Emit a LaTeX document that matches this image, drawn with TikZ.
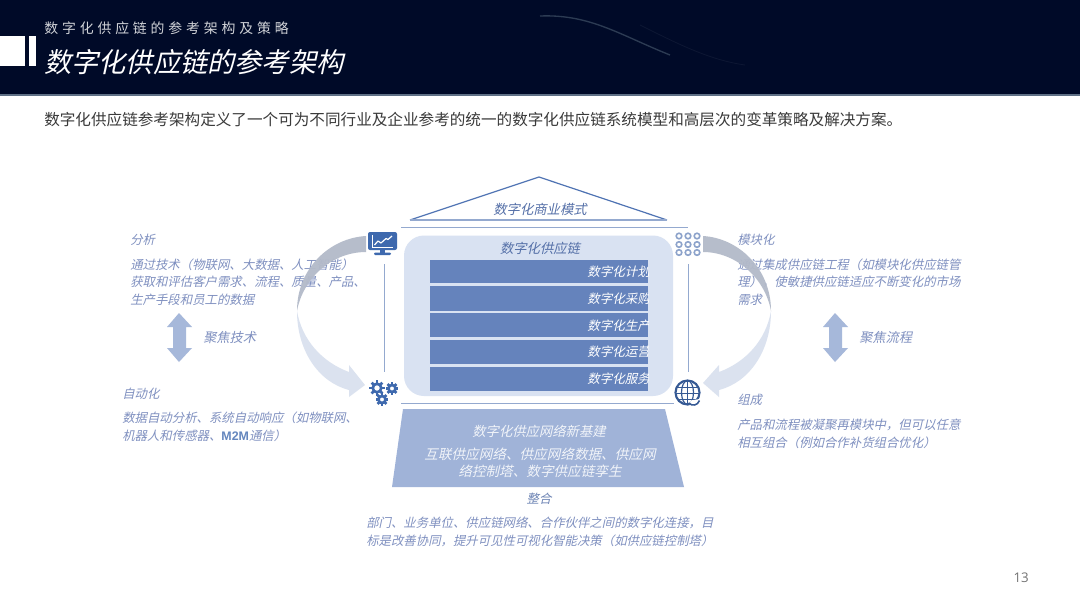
\documentclass[tikz,border=0pt]{standalone}
\usepackage{fontspec}
\setmainfont{Noto Sans CJK SC}
\setsansfont{Liberation Sans}
\newfontfamily\cjkup{Noto Sans CJK SC}
\newfontfamily\cjksl[FakeSlant=0.22]{Noto Sans CJK SC}
\newfontfamily\cjkspaced[LetterSpace=28]{Noto Sans CJK SC}
\newfontfamily\numfont{Open Sans}
\definecolor{navy}{HTML}{000A28}
\definecolor{headline}{HTML}{5F7086}
\definecolor{bodytext}{HTML}{3A3A3A}
\definecolor{labtext}{HTML}{7F90C0}
\definecolor{headtext}{HTML}{5570A8}
\definecolor{panel}{HTML}{D9E2F2}
\definecolor{barblue}{HTML}{6583BC}
\definecolor{rule}{HTML}{94A9CF}
\definecolor{roofline}{HTML}{4F73B3}
\definecolor{trap}{HTML}{A0B3D8}
\definecolor{dbl}{HTML}{A6B8DA}
\definecolor{arcgrey}{HTML}{B3BAC9}
\definecolor{arclight}{HTML}{D8E0EE}
\definecolor{iconblue}{HTML}{3E69AE}
\definecolor{dotring}{HTML}{8DA3CB}
\newcommand{\gearicon}[3]{%
  \begin{scope}[shift={(#1,#2)}]
    \foreach \ang in {0,45,...,315}{\draw[iconblue,line width=2.1pt] (\ang:#3*0.55) -- (\ang:#3);}
    \draw[iconblue,line width=2pt] (0,0) circle[radius=#3*0.56];
  \end{scope}}
\tikzset{
  x=0.75pt,y=-0.75pt,
  lab/.style={anchor=west,inner sep=0pt,align=left,text=labtext,font=\cjksl\fontsize{9.3}{13.2}\selectfont},
  midlab/.style={anchor=center,inner sep=0pt,align=center,font=\cjksl\fontsize{10}{12.8}\selectfont},
  barlab/.style={anchor=west,inner sep=0pt,text=white,font=\cjksl\fontsize{9.4}{12}\selectfont},
  barbox/.style={fill=barblue,draw=none},
  thinrule/.style={draw=rule,line width=0.7pt},
  dblarrow/.style={fill=dbl,draw=none},
  arcup/.style={fill=arcgrey,draw=none,opacity=0.95},
  arcdown/.style={fill=arclight,draw=none,opacity=0.92},
}
\begin{document}
\begin{tikzpicture}
\useasboundingbox (0,0) rectangle (1080,608);
\fill[white] (0,0) rectangle (1080,608);
% header
\fill[navy] (0,0) rectangle (1080,94);
\fill[headline] (0,94) rectangle (1080,95.5);
\draw[color=navy!85!cyan!50!white,line width=1pt,opacity=.35] (540,16) .. controls (590,14) and (620,35) .. (670,55);
\draw[color=navy!85!white,line width=.6pt,opacity=.35] (640,25) .. controls (680,45) and (710,60) .. (745,65);
\fill[white] (0,36) rectangle (25,66);
\fill[white] (29,36) rectangle (35.5,66);
\node[anchor=west,inner sep=0pt,text=white!82!navy,font=\cjkspaced\fontsize{10.4}{12}\selectfont] (kicker) at (44,28) {数字化供应链的参考架构及策略};
\node[anchor=west,inner sep=0pt,text=white,font=\cjksl\fontsize{20.4}{24}\selectfont] (title) at (44,62) {数字化供应链的参考架构};
\node[anchor=west,inner sep=0pt,text=bodytext,font=\cjkup\fontsize{11.7}{14}\selectfont] (intro) at (44,120) {数字化供应链参考架构定义了一个可为不同行业及企业参考的统一的数字化供应链系统模型和高层次的变革策略及解决方案。};
% left/right texts
\node[lab] (t1) at (130,240) {分析};
\node[lab] (t2) at (130,282) {通过技术（物联网、大数据、人工智能）\\获取和评估客户需求、流程、质量、产品、\\生产手段和员工的数据};
\node[lab] (t3) at (122,394) {自动化};
\node[lab] (t4) at (122,427) {数据自动分析、系统自动响应（如物联网、\\机器人和传感器、{\sffamily\bfseries\color{iconblue!80!white}M2M}通信）};
\node[lab,font=\cjksl\fontsize{9.9}{13}\selectfont] (t5) at (203,338) {聚焦技术};
\node[lab] (t6) at (737,240) {模块化};
\node[lab] (t7) at (737,282) {通过集成供应链工程（如模块化供应链管\\理），使敏捷供应链适应不断变化的市场\\需求};
\node[lab] (t8) at (737,400) {组成};
\node[lab] (t9) at (737,434) {产品和流程被凝聚再模块中，但可以任意\\相互组合（例如合作补货组合优化）};
\node[lab,font=\cjksl\fontsize{9.9}{13}\selectfont] (t10) at (859,338) {聚焦流程};
% double arrows
\fill[dblarrow] (179,313) -- (192,327) -- (186,327) -- (186,348) -- (192,348) -- (179,362) -- (167,348) -- (173,348) -- (173,327) -- (167,327) -- cycle;
\fill[dblarrow] (835,313) -- (848,327) -- (842,327) -- (842,348) -- (848,348) -- (835,362) -- (823,348) -- (829,348) -- (829,327) -- (823,327) -- cycle;
% arcs
\fill[arcdown] (297,311) .. controls (297,350) and (318,382) .. (349,390) -- (349,397) -- (365,385) -- (349,365) -- (349,372) .. controls (322,362) and (302,340) .. (297,311) -- cycle;
\fill[arcup] (366,236) .. controls (330,238) and (297,268) .. (297,311) .. controls (303,278) and (332,252) .. (366,252) -- cycle;
\fill[arcdown] (771,311) .. controls (771,350) and (750,382) .. (719,390) -- (719,397) -- (703,383) -- (719,365) -- (719,372) .. controls (746,362) and (766,340) .. (771,311) -- cycle;
\fill[arcup] (703,236) .. controls (738,238) and (771,268) .. (771,311) .. controls (765,278) and (736,252) .. (703,252) -- cycle;
% rules
\draw[thinrule] (401,227) -- (688,227);
\draw[thinrule] (401,403) -- (674,403);
\coordinate (lruleA) at (384,264); \coordinate (lruleB) at (384,372);
\coordinate (rruleA) at (688,264); \coordinate (rruleB) at (688,372);
\draw[thinrule] (lruleA) -- (lruleB);
\draw[thinrule] (rruleA) -- (rruleB);
% roof
\draw[roofline,line width=.9pt,line join=miter] (410,220) -- (539,177) -- (667,220);
\draw[rule,line width=1.3pt] (410,220) -- (667,220);
\node[midlab,text=headtext] (roof) at (540,209) {数字化商业模式};
% panel
\fill[panel,rounded corners=15pt] (404,235.5) rectangle (673,396);
\node[midlab,text=headtext] (panelhead) at (540,248) {数字化供应链};
\foreach \nm/\ya/\yb/\txt in {b1/259.5/283.3/数字化计划,b2/286.3/310.7/数字化采购,b3/313.3/337.3/数字化生产,b4/340/364/数字化运营,b5/366.7/391/数字化服务}{
  \fill[barbox] (430,\ya) rectangle (648,\yb);
  \begin{scope}
    \clip (430,\ya) rectangle (648,\yb);
    \node[barlab] (\nm) at (587,{(\ya+\yb)/2}) {\txt};
  \end{scope}
}
% trapezoid
\fill[trap] (403,409) -- (665,409) -- (684,487) -- (392,487) -- cycle;
\node[midlab,text=white!85!trap,font=\cjksl\fontsize{10}{12}\selectfont] (base1) at (539,431) {数字化供应网络新基建};
\node[midlab,text=white!85!trap,font=\cjksl\fontsize{10.2}{12.9}\selectfont] (base2) at (540,462.5) {互联供应网络、供应网络数据、供应网\\络控制塔、数字供应链孪生};
\node[midlab,text=headtext!85!white,font=\cjksl\fontsize{9.3}{12}\selectfont] (base3) at (539,499) {整合};
\node[lab] (base4) at (366,532) {部门、业务单位、供应链网络、合作伙伴之间的数字化连接，目\\标是改善协同，提升可见性可视化智能决策（如供应链控制塔）};
% page number
\node[anchor=east,inner sep=0pt,text=black!55,font=\numfont\fontsize{10}{12}\selectfont] (pageno) at (1029,578) {13};
% monitor icon
\fill[iconblue,rounded corners=1.5pt] (368,232) rectangle (397,250);
\fill[iconblue] (380,250) rectangle (385,253);
\fill[iconblue,rounded corners=.8pt] (374,252.5) rectangle (391,255);
\draw[white,line width=.7pt] (372,235) -- (372,247) -- (393,247);
\draw[white,line width=.9pt,line join=round] (374.5,245) -- (378,241) -- (381,243) -- (386,238.5) -- (388,239.5) -- (392,236);
% gears
\gearicon{377}{388}{7.6}
\gearicon{392}{388.5}{6.3}
\gearicon{382}{399.5}{6.3}
% globe
\begin{scope}[shift={(687.5,392.5)}]
  \fill[white] (0,0) circle[radius=12.5];
  \begin{scope}
    \clip (0,0) circle[radius=12];
    \draw[iconblue!85!black,line width=.9pt] (-13,-5) -- (13,-5) (-13,1) -- (13,1) (-13,7) -- (13,7) (0,-13) -- (0,13);
    \draw[iconblue!85!black,line width=.9pt] (0,0) ellipse[x radius=6,y radius=12];
  \end{scope}
  \draw[iconblue!85!black,line width=1.6pt] (0,0) circle[radius=12];
  \fill[white] (3,8) -- (15,6) -- (14,15) -- (2,15) -- cycle;
  \draw[iconblue!85!black,line width=1.2pt] (1,10.5) .. controls (5,14) and (10,13) .. (12,8);
\end{scope}
% dots
\foreach \xx in {679,688,697}\foreach \yy in {236,244.5,252.5}{
  \draw[dotring,line width=1.2pt,fill=white] (\xx,\yy) circle[radius=2.8];
}
\end{tikzpicture}
\end{document}
